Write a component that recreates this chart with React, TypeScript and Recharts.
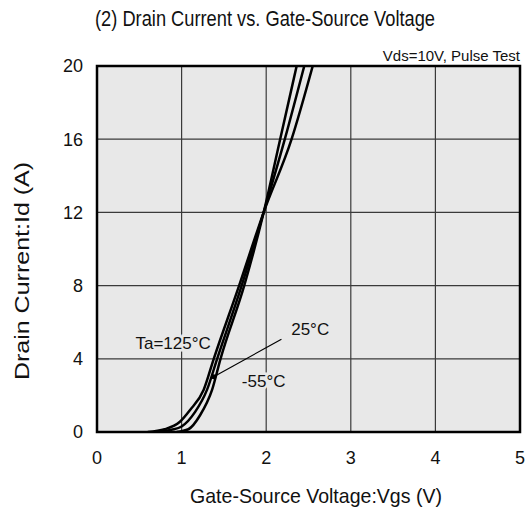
import { LineChart, Line, XAxis, YAxis, CartesianGrid, ReferenceLine, ReferenceDot, ReferenceArea } from 'recharts';

// Id vs Vgs curves (Vgs in V, Id in A)
const ta125 = [
  { vgs: 0.6, id: 0 },
  { vgs: 0.8, id: 0.15 },
  { vgs: 0.98, id: 0.56 },
  { vgs: 1.1, id: 1.2 },
  { vgs: 1.26, id: 2.3 },
  { vgs: 1.38, id: 4 },
  { vgs: 1.68, id: 8 },
  { vgs: 1.97, id: 12 },
  { vgs: 2.3, id: 16 },
  { vgs: 2.55, id: 20 },
];

const ta25 = [
  { vgs: 0.73, id: 0 },
  { vgs: 0.88, id: 0.12 },
  { vgs: 1.0, id: 0.3 },
  { vgs: 1.16, id: 1.1 },
  { vgs: 1.3, id: 2.3 },
  { vgs: 1.42, id: 4 },
  { vgs: 1.71, id: 8 },
  { vgs: 1.97, id: 12 },
  { vgs: 2.22, id: 16 },
  { vgs: 2.45, id: 20 },
];

const taMinus55 = [
  { vgs: 0.94, id: 0 },
  { vgs: 1.08, id: 0.15 },
  { vgs: 1.22, id: 0.93 },
  { vgs: 1.36, id: 2.3 },
  { vgs: 1.46, id: 4 },
  { vgs: 1.74, id: 8 },
  { vgs: 1.97, id: 12 },
  { vgs: 2.165, id: 16 },
  { vgs: 2.36, id: 20 },
];

const xTicks = [0, 1, 2, 3, 4, 5];
const yTicks = [0, 4, 8, 12, 16, 20];

const FONT = '"Liberation Sans", Arial, sans-serif';

// text with a halo in the plot colour so the grid is hidden behind it
const haloLabel = (text: string) => (props: any) => {
  const { viewBox } = props;
  const cx = viewBox.x + (viewBox.width || 0) / 2;
  const cy = viewBox.y + (viewBox.height || 0) / 2;
  return (
    <text
      x={cx}
      y={cy}
      dy="0.35em"
      textAnchor="middle"
      fontSize={17}
      fontFamily={FONT}
      fill="#111"
      stroke="#e8e8e8"
      strokeWidth={5}
      paintOrder="stroke"
    >
      {text}
    </text>
  );
};

const centered = (x: number, y: number, extra: string = ''): React.CSSProperties => ({
  position: 'absolute',
  left: x,
  top: y,
  transform: `translate(-50%, -50%) ${extra}`,
  whiteSpace: 'nowrap',
  color: '#111',
  lineHeight: 1,
});

export default function App() {
  return (
    <div style={{ position: 'absolute', left: 0, top: 0, width: 529, height: 514, background: '#fff', fontFamily: FONT }}>
      <div style={{ ...centered(265, 19, 'scaleX(0.83)'), fontSize: 22 }}>
        (2) Drain Current vs. Gate-Source Voltage
      </div>
      <div style={{ position: 'absolute', right: 9, top: 48, fontSize: 15, lineHeight: 1, color: '#111', whiteSpace: 'nowrap' }}>
        Vds=10V, Pulse Test
      </div>
      <div style={{ ...centered(22, 271, 'rotate(-90deg) scaleY(0.8)'), fontSize: 25 }}>
        Drain Current:Id (A)
      </div>
      <div style={{ ...centered(316, 495, 'scaleX(0.93)'), fontSize: 21 }}>
        Gate-Source Voltage:Vgs (V)
      </div>

      <LineChart width={529} height={514} margin={{ top: 66, right: 9, bottom: 0, left: 0 }}>
        <CartesianGrid fill="#e8e8e8" fillOpacity={1} stroke="#3a3a3a" strokeWidth={1.2} strokeOpacity={1} />
        <XAxis
          type="number"
          dataKey="vgs"
          domain={[0, 5]}
          ticks={xTicks}
          allowDataOverflow
          tickLine={false}
          axisLine={false}
          tickSize={0}
          tickMargin={19}
          tick={{ fontSize: 18, fill: '#111', fontFamily: FONT }}
          height={82}
        />
        <YAxis
          type="number"
          dataKey="id"
          domain={[0, 20]}
          ticks={yTicks}
          allowDataOverflow
          tickLine={false}
          axisLine={false}
          tickSize={0}
          tickMargin={14}
          tick={{ fontSize: 18, fill: '#111', fontFamily: FONT }}
          width={97}
        />
        <Line data={ta125} dataKey="id" type="monotone" stroke="#000" strokeWidth={2.5} dot={false} isAnimationActive={false} />
        <Line data={ta25} dataKey="id" type="monotone" stroke="#000" strokeWidth={2.5} dot={false} isAnimationActive={false} />
        <Line data={taMinus55} dataKey="id" type="monotone" stroke="#000" strokeWidth={2.5} dot={false} isAnimationActive={false} />

        <ReferenceLine segment={[{ x: 2.18, y: 5.07 }, { x: 1.38, y: 3.02 }]} stroke="#000" strokeWidth={1.2} />
        <ReferenceDot x={1.38} y={3.02} r={2.5} fill="#000" stroke="none" />
        <ReferenceDot x={0.9} y={4.85} r={0} label={{ content: haloLabel('Ta=125°C') }} />
        <ReferenceDot x={2.52} y={5.61} r={0} label={{ content: haloLabel('25°C') }} />
        <ReferenceDot x={1.97} y={2.79} r={0} label={{ content: haloLabel('-55°C') }} />

        <ReferenceArea x1={0} x2={5} y1={0} y2={20} fill="none" stroke="#000" strokeWidth={2.5} />
      </LineChart>
    </div>
  );
}
